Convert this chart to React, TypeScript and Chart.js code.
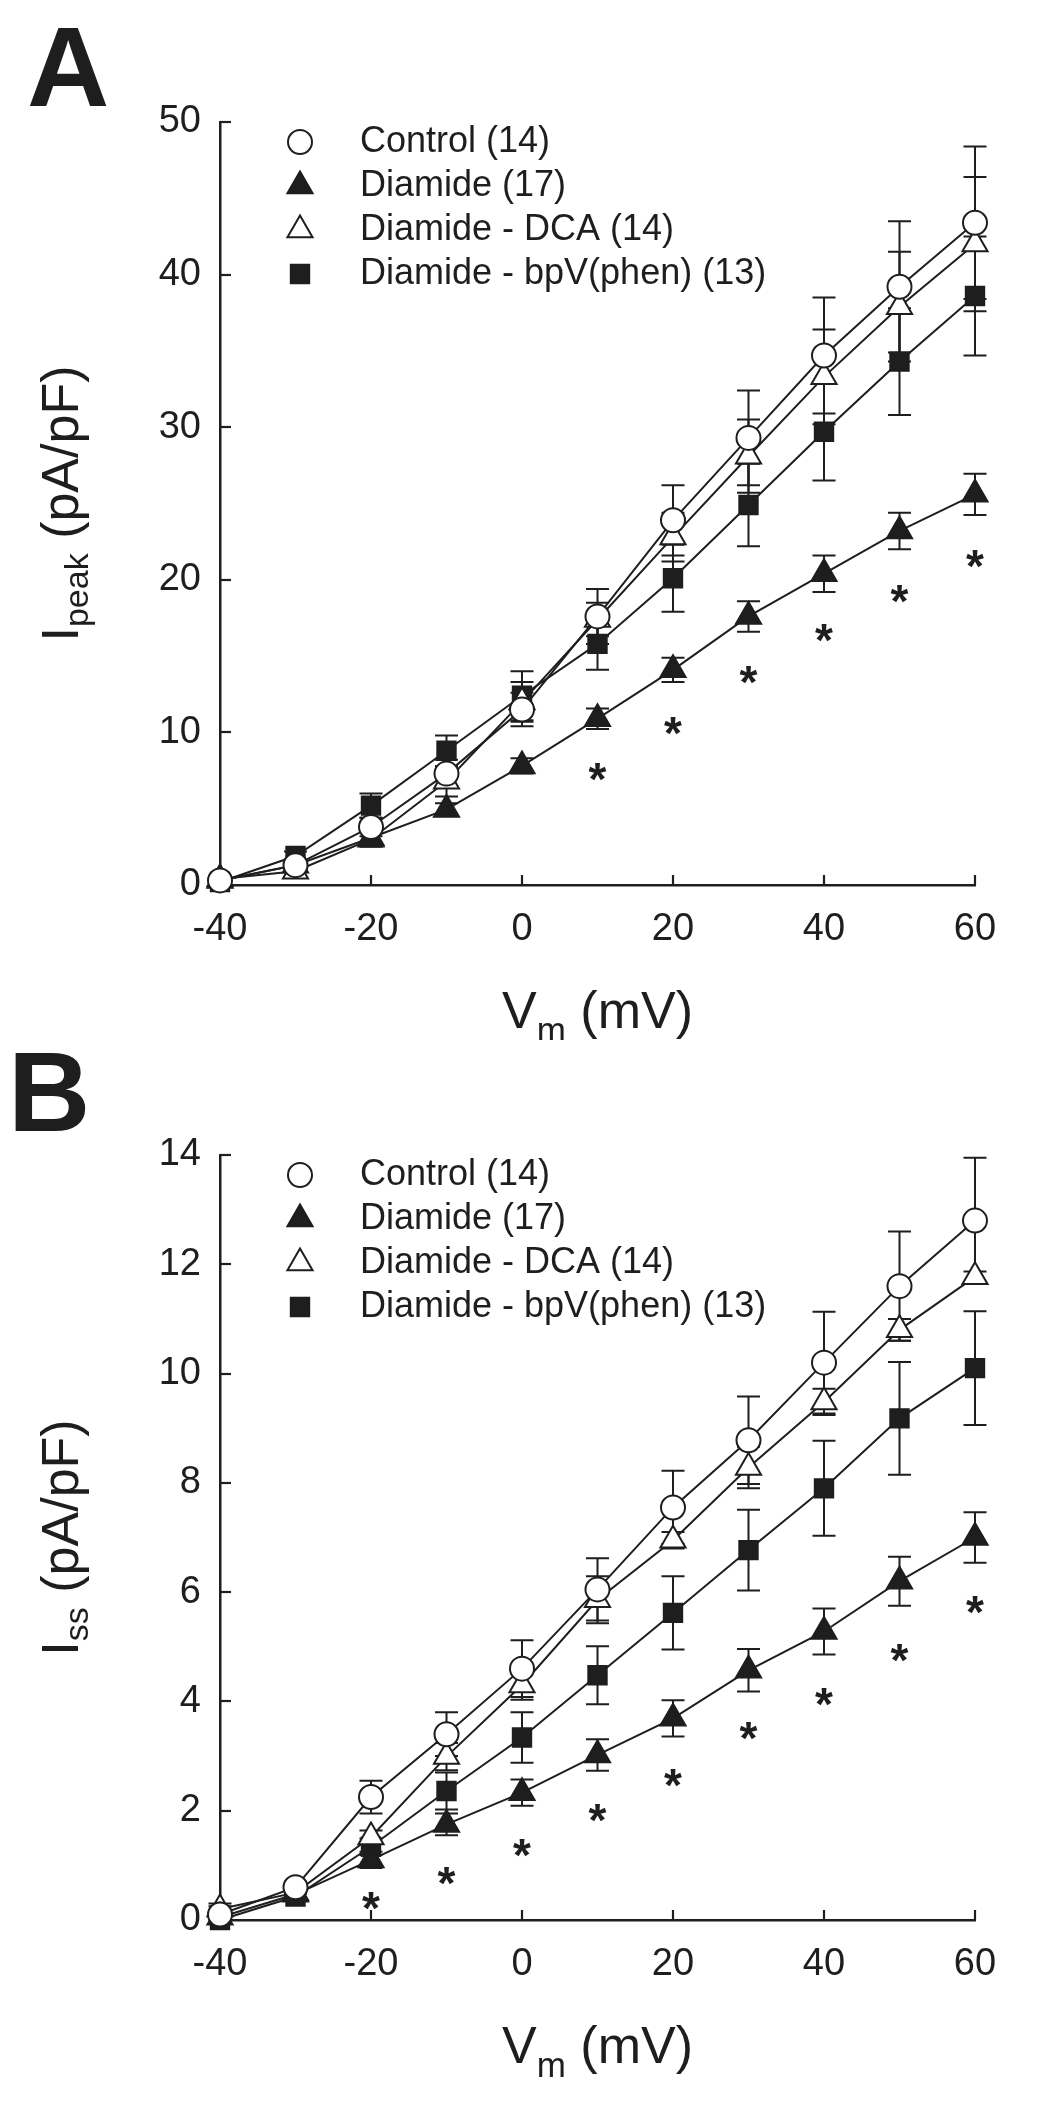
import React, { useEffect, useRef } from "react";
import { Chart, registerables } from "chart.js";

Chart.register(...registerables);

const FONT = "'Liberation Sans', Arial, Helvetica, sans-serif";
const INK = "#1e1e1e";

// ---------- shared ----------
const VM_MV = [-40, -30, -20, -10, 0, 10, 20, 30, 40, 50, 60];
const SERIES_NAMES = ["Control (14)", "Diamide (17)", "Diamide - DCA (14)", "Diamide - bpV(phen) (13)"];
const X_MIN = -40;
const X_MAX = 60;
const X_STEP = 20;

// ---------- panel A : I peak ----------
const PEAK_CONTROL = [0.3, 1.3, 3.8, 7.3, 11.5, 17.6, 23.9, 29.3, 34.7, 39.2, 43.4];
const PEAK_CONTROL_SEM = [0.2, 0.3, 0.6, 0.9, 1.1, 1.8, 2.3, 3.1, 3.8, 4.3, 5.0];
const PEAK_DIAMIDE = [0.3, 1.3, 3.1, 4.95, 7.8, 10.9, 14.1, 17.6, 20.4, 23.2, 25.6];
const PEAK_DIAMIDE_SEM = [0.1, 0.2, 0.3, 0.4, 0.5, 0.67, 0.8, 1.0, 1.2, 1.2, 1.35];
const PEAK_DCA = [0.4, 0.9, 3.0, 6.8, 12.0, 17.4, 22.8, 28.1, 33.3, 37.9, 42.0];
const PEAK_DCA_SEM = [0.2, 0.3, 0.5, 1.0, 1.3, 1.1, 1.6, 2.4, 3.1, 3.6, 4.4];
const PEAK_BPV = [0.2, 1.9, 5.2, 8.8, 12.4, 15.8, 20.1, 24.9, 29.7, 34.3, 38.6];
const PEAK_BPV_SEM = [0.1, 0.3, 0.8, 1.0, 1.6, 1.7, 2.2, 2.7, 3.2, 3.5, 3.9];
const PEAK_SIG_X = [10, 20, 30, 40, 50, 60];
const PEAK_SIG_Y = [7.6, 10.6, 14.0, 16.7, 19.3, 21.6];
const PEAK_Y_MAX = 50;
const PEAK_Y_STEP = 10;

// ---------- panel B : I ss ----------
const SS_CONTROL = [0.1, 0.6, 2.25, 3.4, 4.6, 6.05, 7.55, 8.78, 10.2, 11.6, 12.8];
const SS_CONTROL_SEM = [0.15, 0.1, 0.3, 0.4, 0.52, 0.57, 0.67, 0.8, 0.93, 1.0, 1.15];
const SS_DIAMIDE = [0.05, 0.47, 1.1, 1.75, 2.33, 3.02, 3.69, 4.57, 5.28, 6.2, 7.0];
const SS_DIAMIDE_SEM = [0.05, 0.05, 0.15, 0.2, 0.24, 0.29, 0.33, 0.39, 0.42, 0.45, 0.46];
const SS_DCA = [0.2, 0.5, 1.52, 2.99, 4.3, 5.86, 6.95, 8.28, 9.48, 10.8, 11.77];
const SS_DCA_SEM = [0.1, 0.1, 0.12, 0.25, 0.27, 0.43, 0.15, 0.38, 0.24, 0.2, 0.1];
const SS_BPV = [0.0, 0.43, 1.34, 2.36, 3.34, 4.48, 5.62, 6.77, 7.9, 9.18, 10.1];
const SS_BPV_SEM = [0.05, 0.05, 0.15, 0.34, 0.46, 0.53, 0.67, 0.74, 0.87, 1.03, 1.04];
const SS_SIG_X = [-20, -10, 0, 10, 20, 30, 40, 50, 60];
const SS_SIG_Y = [0.4, 0.87, 1.37, 2.01, 2.65, 3.51, 4.14, 4.95, 5.82];
const SS_Y_MAX = 14;
const SS_Y_STEP = 2;

type Style = { pointStyle: string; radius: number; fill: string };
const STYLES: Style[] = [
  { pointStyle: "circle", radius: 12, fill: "#ffffff" },
  { pointStyle: "triangle", radius: 14.5, fill: INK },
  { pointStyle: "triangle", radius: 14.5, fill: "#ffffff" },
  { pointStyle: "rect", radius: 13, fill: INK },
];

function drawMarker(ctx: CanvasRenderingContext2D, style: string, x: number, y: number, r: number, fill: string) {
  ctx.beginPath();
  if (style === "circle") {
    ctx.arc(x, y, r, 0, Math.PI * 2);
  } else if (style === "triangle") {
    ctx.moveTo(x, y - r);
    ctx.lineTo(x + 0.866 * r, y + 0.5 * r);
    ctx.lineTo(x - 0.866 * r, y + 0.5 * r);
    ctx.closePath();
  } else {
    const s = r * Math.SQRT1_2;
    ctx.rect(x - s, y - s, 2 * s, 2 * s);
  }
  ctx.fillStyle = fill;
  ctx.fill();
  ctx.lineWidth = 2;
  ctx.strokeStyle = INK;
  ctx.stroke();
}

type Part = { text: string; size: number; dy: number };
function drawParts(ctx: CanvasRenderingContext2D, parts: Part[], cx: number, base: number) {
  const widths: number[] = [];
  let total = 0;
  parts.forEach((p) => {
    ctx.font = `${p.size}px ${FONT}`;
    const w = ctx.measureText(p.text).width;
    widths.push(w);
    total += w;
  });
  let x = cx - total / 2;
  ctx.textAlign = "left";
  ctx.textBaseline = "alphabetic";
  parts.forEach((p, i) => {
    ctx.font = `${p.size}px ${FONT}`;
    ctx.fillText(p.text, x, base + p.dy);
    x += widths[i];
  });
}

type PanelSpec = {
  letter: string;
  letterX: number;
  letterBase: number;
  ySub: string;
  series: number[][];
  sems: number[][];
  sigX: number[];
  sigY: number[];
  yMax: number;
  yStep: number;
  canvasTop: number;
  canvasHeight: number;
  padTop: number;
  padBottom: number;
};

function Panel({ spec }: { spec: PanelSpec }) {
  const ref = useRef<HTMLCanvasElement | null>(null);

  useEffect(() => {
    const canvas = ref.current;
    if (!canvas) return;

    const datasets = spec.series.map((vals, i) => ({
      label: SERIES_NAMES[i],
      data: VM_MV.map((x, j) => ({ x, y: vals[j] })),
      errors: spec.sems[i],
      borderColor: INK,
      borderWidth: 2,
      pointStyle: STYLES[i].pointStyle,
      pointRadius: STYLES[i].radius,
      pointHoverRadius: STYLES[i].radius,
      pointBackgroundColor: STYLES[i].fill,
      pointBorderColor: INK,
      pointBorderWidth: 2,
      fill: false,
      tension: 0,
      clip: false as any,
    }));

    const decor = {
      id: "panelDecor",
      beforeDatasetsDraw(chart: any) {
        const ctx: CanvasRenderingContext2D = chart.ctx;
        const xs = chart.scales.x;
        const ys = chart.scales.y;
        const a = chart.chartArea;
        ctx.save();
        ctx.strokeStyle = INK;
        ctx.lineWidth = 2.2;
        ctx.lineCap = "butt";
        // inward tick marks
        ys.ticks.forEach((t: any) => {
          if (t.value === ys.min) return;
          const py = Math.round(ys.getPixelForValue(t.value));
          ctx.beginPath();
          ctx.moveTo(a.left, py);
          ctx.lineTo(a.left + 11, py);
          ctx.stroke();
        });
        xs.ticks.forEach((t: any) => {
          if (t.value === xs.min) return;
          const px = Math.round(xs.getPixelForValue(t.value));
          ctx.beginPath();
          ctx.moveTo(px, a.bottom);
          ctx.lineTo(px, a.bottom - 10);
          ctx.stroke();
        });
        // error bars
        ctx.lineWidth = 2;
        chart.data.datasets.forEach((ds: any, di: number) => {
          const meta = chart.getDatasetMeta(di);
          meta.data.forEach((pt: any, i: number) => {
            const v = ds.data[i].y;
            const e = ds.errors[i];
            const x = pt.x;
            const yTop = ys.getPixelForValue(v + e);
            const yBot = ys.getPixelForValue(v - e);
            ctx.beginPath();
            ctx.moveTo(x, yTop);
            ctx.lineTo(x, yBot);
            ctx.moveTo(x - 11.5, yTop);
            ctx.lineTo(x + 11.5, yTop);
            ctx.moveTo(x - 11.5, yBot);
            ctx.lineTo(x + 11.5, yBot);
            ctx.stroke();
          });
        });
        ctx.restore();
      },
      afterDatasetsDraw(chart: any) {
        const ctx: CanvasRenderingContext2D = chart.ctx;
        const xs = chart.scales.x;
        const ys = chart.scales.y;
        ctx.save();
        ctx.fillStyle = INK;
        ctx.font = `bold 46px ${FONT}`;
        ctx.textAlign = "center";
        ctx.textBaseline = "alphabetic";
        spec.sigX.forEach((sx, i) => {
          const px = xs.getPixelForValue(sx);
          const py = ys.getPixelForValue(spec.sigY[i]);
          ctx.fillText("*", px, py + 0.57 * 46);
        });
        ctx.restore();
      },
      afterDraw(chart: any) {
        const ctx: CanvasRenderingContext2D = chart.ctx;
        const a = chart.chartArea;
        ctx.save();
        // legend
        chart.data.datasets.forEach((ds: any, i: number) => {
          const cy = a.top + 20 + i * 44;
          drawMarker(ctx, STYLES[i].pointStyle, a.left + 80, cy, STYLES[i].radius, STYLES[i].fill);
          ctx.fillStyle = INK;
          ctx.font = `36px ${FONT}`;
          ctx.textAlign = "left";
          ctx.textBaseline = "middle";
          ctx.fillText(ds.label, a.left + 140, cy);
        });
        ctx.fillStyle = INK;
        // x title
        drawParts(
          ctx,
          [
            { text: "V", size: 52, dy: 0 },
            { text: "m", size: 35, dy: 14 },
            { text: " (mV)", size: 52, dy: 0 },
          ],
          (a.left + a.right) / 2,
          a.bottom + 143
        );
        // y title (rotated)
        ctx.save();
        ctx.translate(78, (a.top + a.bottom) / 2);
        ctx.rotate(-Math.PI / 2);
        drawParts(
          ctx,
          [
            { text: "I", size: 52, dy: 0 },
            { text: spec.ySub, size: 34, dy: 10 },
            { text: " (pA/pF)", size: 52, dy: 0 },
          ],
          0,
          0
        );
        ctx.restore();
        // panel letter
        ctx.font = `bold 114px ${FONT}`;
        ctx.textAlign = "left";
        ctx.textBaseline = "alphabetic";
        ctx.fillText(spec.letter, spec.letterX, spec.letterBase);
        ctx.restore();
      },
    };

    const chart = new Chart(canvas, {
      type: "line",
      data: { datasets: datasets as any },
      options: {
        responsive: false,
        animation: false,
        events: [],
        layout: { padding: { left: 100, right: 75, top: spec.padTop, bottom: spec.padBottom } },
        plugins: { legend: { display: false }, tooltip: { enabled: false } },
        scales: {
          x: {
            type: "linear",
            min: X_MIN,
            max: X_MAX,
            ticks: { stepSize: X_STEP, color: INK, font: { family: FONT, size: 38 }, padding: 14, maxRotation: 0 },
            grid: { display: false },
            border: { display: true, color: INK, width: 2.5 },
            afterFit: (s: any) => {
              s.height = 80;
            },
          },
          y: {
            type: "linear",
            min: 0,
            max: spec.yMax,
            ticks: { stepSize: spec.yStep, color: INK, font: { family: FONT, size: 38 }, padding: 11 },
            grid: { display: false },
            border: { display: true, color: INK, width: 2.5 },
            afterFit: (s: any) => {
              s.width = 120;
            },
          },
        },
      } as any,
      plugins: [decor],
    });
    return () => chart.destroy();
  }, [spec]);

  return (
    <canvas
      ref={ref}
      width={1050}
      height={spec.canvasHeight}
      style={{ position: "absolute", left: 0, top: spec.canvasTop, width: 1050, height: spec.canvasHeight }}
    />
  );
}

const PANEL_A: PanelSpec = {
  letter: "A",
  letterX: 27,
  letterBase: 106,
  ySub: "peak",
  series: [PEAK_CONTROL, PEAK_DIAMIDE, PEAK_DCA, PEAK_BPV],
  sems: [PEAK_CONTROL_SEM, PEAK_DIAMIDE_SEM, PEAK_DCA_SEM, PEAK_BPV_SEM],
  sigX: PEAK_SIG_X,
  sigY: PEAK_SIG_Y,
  yMax: PEAK_Y_MAX,
  yStep: PEAK_Y_STEP,
  canvasTop: 0,
  canvasHeight: 1040,
  padTop: 122,
  padBottom: 75,
};

const PANEL_B: PanelSpec = {
  letter: "B",
  letterX: 8,
  letterBase: 91,
  ySub: "ss",
  series: [SS_CONTROL, SS_DIAMIDE, SS_DCA, SS_BPV],
  sems: [SS_CONTROL_SEM, SS_DIAMIDE_SEM, SS_DCA_SEM, SS_BPV_SEM],
  sigX: SS_SIG_X,
  sigY: SS_SIG_Y,
  yMax: SS_Y_MAX,
  yStep: SS_Y_STEP,
  canvasTop: 1040,
  canvasHeight: 1064,
  padTop: 115,
  padBottom: 104,
};

export default function App() {
  return (
    <div style={{ position: "absolute", left: 0, top: 0, width: 1050, height: 2104, background: "#ffffff" }}>
      <Panel spec={PANEL_A} />
      <Panel spec={PANEL_B} />
    </div>
  );
}
